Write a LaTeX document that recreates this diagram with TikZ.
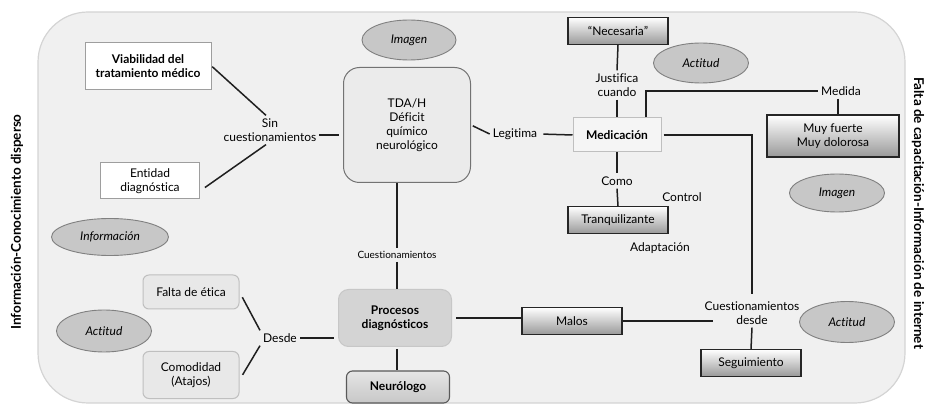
\documentclass[tikz,border=0pt]{standalone}
\usepackage{fontspec}
\setmainfont{Lato}[Ligatures={NoCommon}]
\usetikzlibrary{shapes.geometric}

\newcommand\txt{\fontsize{12}{14}\selectfont}

\tikzset{
  link/.style={draw=black!88, line width=1.5pt},
  lbl/.style={inner sep=3pt, align=center},
  whitebox/.style={draw=black!38, fill=white, line width=1pt, align=center},
  gradbox/.style={draw=black!85, line width=1.1pt, top color=white, bottom color=black!40, align=center},
  softbox/.style={draw=black!25, fill=black!9, line width=1pt, rounded corners=6pt, align=center},
  oval/.style={ellipse, draw=black!50, fill=black!22, line width=0.9pt, font=\txt\itshape, minimum width=95pt, minimum height=40pt},
  sidetext/.style={font=\fontsize{13.5}{15}\selectfont\bfseries}
}

\begin{document}
\begin{tikzpicture}[x=1pt, y=-1pt, font=\txt]
            \useasboundingbox (0,0) rectangle (930,406);
            % fondo
            \draw[draw=black!17, fill=black!6, line width=1.2pt, rounded corners=50pt] (38,12) rectangle (905,403);

            \node[sidetext, rotate=90] (izq) at (17,222) {Información-Conocimiento disperso};
            \node[sidetext, rotate=-90] (der) at (918,213) {Falta de capacitación-Información de internet};

            % bloque izquierdo
            \node[whitebox, font=\txt\bfseries, minimum width=126pt, minimum height=47pt] (viab) at (148,66) {Viabilidad del\\tratamiento médico};
            \node[whitebox, minimum width=99pt, minimum height=36pt] (ent) at (150,181) {Entidad\\diagnóstica};
            \node[lbl] (sinq) at (270,130) {Sin\\cuestionamientos};
            \node[oval, minimum width=117pt, minimum height=37pt] (info) at (110,237) {Información};
            \node[oval, minimum height=42pt] (actL) at (104,331) {Actitud};

            \node[softbox, minimum width=96pt, minimum height=34pt] (falta) at (191,292) {Falta de ética};
            \node[softbox, minimum width=96pt, minimum height=47pt] (comod) at (191,375) {Comodidad\\(Atajos)};
            \node[lbl] (desde) at (280,338) {Desde};

            % centro
            \node[oval, minimum width=94pt] (imgT) at (409,40) {Imagen};
            \node[draw=black!55, fill=black!8, line width=1pt, rounded corners=16pt, align=center, minimum width=127pt, minimum height=115pt] (tda) at (407,125) {TDA/H\\Déficit\\químico\\neurológico};
            \node[lbl] (legit) at (515,134) {Legitima};
            \node[lbl, font=\fontsize{10}{12}\selectfont] (cuest) at (397,255) {Cuestionamientos};
            \node[draw=black!22, fill=black!17, line width=1pt, rounded corners=10pt, font=\txt\bfseries, align=center, minimum width=113pt, minimum height=57pt] (proc) at (395,318) {Procesos\\diagnósticos};
            \node[draw=black!65, top color=black!10, bottom color=black!22, line width=1.1pt, rounded corners=6pt, font=\txt\bfseries, minimum width=103pt, minimum height=32pt] (neuro) at (398,387) {Neurólogo};
            \node[gradbox, minimum width=100pt, minimum height=27pt] (malos) at (572,321) {Malos};

            % medicación
            \node[gradbox, minimum width=100pt, minimum height=27pt] (neces) at (618,31) {“Necesaria”};
            \node[lbl] (justif) at (617,85) {Justifica\\cuando};
            \node[draw=black!25, fill=black!4, line width=1pt, font=\txt\bfseries, minimum width=88pt, minimum height=34pt] (medic) at (617,135) {Medicación};
            \node[lbl] (como) at (617,181) {Como};
            \node[gradbox, minimum width=100pt, minimum height=27pt] (tranq) at (618,220) {Tranquilizante};
            \node[lbl] (control) at (682,197) {Control};
            \node[lbl] (adapt) at (660,248) {Adaptación};
            \node[oval] (actTR) at (701,63) {Actitud};

            % derecha
            \node[lbl] (medida) at (841,91) {Medida};
            \node[gradbox, minimum width=132pt, minimum height=42pt] (muy) at (833,136) {Muy fuerte\\Muy dolorosa};
            \node[oval, minimum height=38pt] (imgR) at (837,193) {Imagen};
            \node[lbl] (cdesde) at (752,313) {Cuestionamientos\\desde};
            \node[gradbox, minimum width=100pt, minimum height=27pt] (seg) at (751,363) {Seguimiento};
            \node[oval, minimum height=41pt] (actR) at (847,322) {Actitud};
            \coordinate (cfin) at (713,321);

            % conexiones
            \draw[link, shorten <=1pt] (viab.east) -- ([xshift=-4pt]sinq.north);
            \draw[link, shorten <=6pt] ([yshift=-10pt]ent.east) -- ([xshift=-4pt]sinq.south);
            \draw[link, shorten >=4pt] ([yshift=-5pt]sinq.east) -- ([yshift=-5pt]sinq.east -| tda.west);
            \draw[link, shorten <=2pt] (tda.east) -- (legit.west);
            \draw[link, shorten <=3pt] (legit.east) -- (medic.west);
            \draw[link] (cuest.north |- tda.south) -- (cuest.north);
            \draw[link] (cuest.south) -- (cuest.south |- proc.north);
            \draw[link, shorten <=2pt] (cuest.south |- proc.south) -- (cuest.south |- neuro.north);
            \draw[link, shorten <=5pt] (proc.east -| 451,0) -- (proc.east -| malos.west);
            \draw[link] (malos.east) -- (cfin);
            \draw[link, shorten >=4pt] (desde.east) -- (desde.east -| proc.west);
            \draw[link, shorten <=6pt] (falta.east) -- (desde.north west);
            \draw[link, shorten <=6pt] ([yshift=-5pt]comod.east) -- (desde.south west);

            \draw[link] (neces.south) -- (justif.north);
            \draw[link] (justif.south) -- (medic.north);
            \draw[link] ([xshift=29pt]medic.north) |- (medida.west);
            \draw[link] (medida.south -| 838,0) -- (muy.north -| 838,0);
            \draw[link] (medic.south) -- (como.north);
            \draw[link] (como.south) -- (tranq.north);
            \draw[link, shorten <=2pt, shorten >=4pt] (medic.east) -| (cdesde.north);
            \draw[link] (cdesde.south) -- (seg.north);
        \end{tikzpicture}
\end{document}
